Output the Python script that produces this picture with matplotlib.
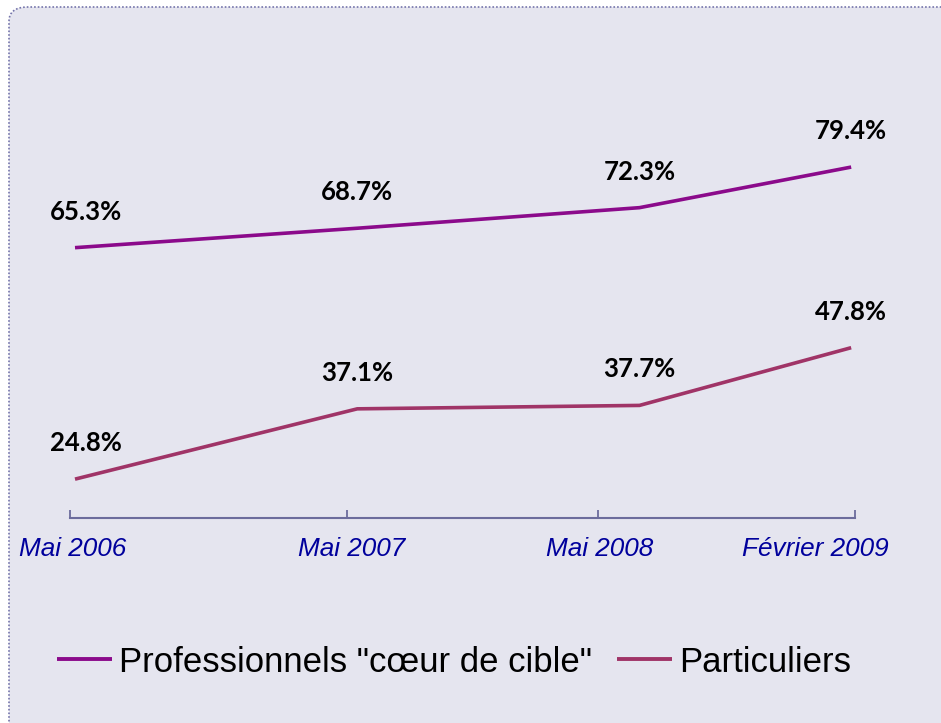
import matplotlib.pyplot as plt
from matplotlib.patches import FancyBboxPatch

# months counted from May 2006
months = [0, 12, 24, 33]
date_labels = ["Mai 2006", "Mai 2007", "Mai 2008", "Février 2009"]
pro = [65.3, 68.7, 72.3, 79.4]
part = [24.8, 37.1, 37.7, 47.8]
series_names = ['Professionnels "cœur de cible"', "Particuliers"]

W, H = 941, 723
fig = plt.figure(figsize=(W / 100, H / 100), dpi=100)
fig.patch.set_facecolor("white")

bg = FancyBboxPatch((9 / W, 1 - 760 / H), 1000 / W, 753 / H,
                    boxstyle="round,pad=0,rounding_size=0.02",
                    transform=fig.transFigure, facecolor="#e5e5ef",
                    edgecolor="#7474aa", linestyle=(0, (1, 1.2)), linewidth=1.2,
                    zorder=-5)
fig.patches.append(bg)

ax = fig.add_axes([70 / W, 1 - 518 / H, 785 / W, 411.5 / H])
ax.set_facecolor("none")
ax.set_zorder(2)

l1, = ax.plot(months, pro, color="#8b0a8b", lw=2.6, solid_capstyle="butt")
l2, = ax.plot(months, part, color="#a03467", lw=2.6, solid_capstyle="butt")

lab_font = dict(family="Lato", weight="bold", size=18.5, color="black")
for i, (x, v) in enumerate(zip(months, pro)):
    dx = 8 if i == 0 else 0
    ax.annotate(f"{v:.1f}%", (x, v), xytext=(dx, 26), textcoords="offset points",
                ha="center", va="center", **lab_font)
for i, (x, v) in enumerate(zip(months, part)):
    dx = 8 if i == 0 else 0
    ax.annotate(f"{v:.1f}%", (x, v), xytext=(dx, 26), textcoords="offset points",
                ha="center", va="center", **lab_font)

ax.set_xlim(-0.2126, 33.163)
ax.set_ylim(18, 90)
ax.set_yticks([])
for s in ["top", "right", "left"]:
    ax.spines[s].set_visible(False)
ax.spines["bottom"].set_color("#6c6c9c")
ax.spines["bottom"].set_linewidth(1.5)

ax.set_xticks([-0.2126, 11.565, 22.237, 33.163], minor=True)
ax.tick_params(axis="x", which="minor", direction="in", length=6, width=1.3,
               color="#6c6c9c")
ax.set_xticks([-0.1, 11.75, 22.32, 31.46])
ax.set_xticklabels(date_labels, family="Liberation Sans", style="italic",
                   size=18.8, color="#00009c")
ax.tick_params(axis="x", which="major", length=0, pad=14)

leg = fig.legend([l1, l2], series_names, loc="center", bbox_to_anchor=(454 / W, 1 - 662 / H),
                 ncol=2, frameon=False, handlelength=1.6, handletextpad=0.2,
                 columnspacing=0.7, prop=dict(family="Liberation Sans", size=25))
for h in leg.legend_handles:
    h.set_linewidth(2.8)

fig.savefig("out.png", dpi=100)
